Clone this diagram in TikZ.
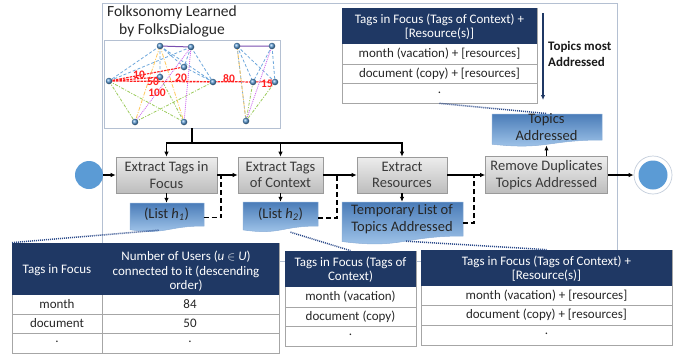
\documentclass[tikz,border=0pt]{standalone}
\usepackage{fontspec}
\setmainfont{Carlito}
\usetikzlibrary{arrows.meta,calc}
\definecolor{navy}{HTML}{1F3864}
\definecolor{frameg}{HTML}{B4C0D2}
\definecolor{tgrey}{HTML}{A6A6A6}
\definecolor{dotblue}{HTML}{2B4A8A}
\definecolor{nodeblue}{HTML}{5B9BD5}
\definecolor{boxtop}{HTML}{EDEDED}
\definecolor{boxbot}{HTML}{BDBDBD}
\definecolor{boxline}{HTML}{9A9A9A}
\definecolor{doctop}{HTML}{4A7CB8}
\definecolor{docbot}{HTML}{A8CBEE}
\definecolor{docline}{HTML}{8AAED8}
\definecolor{txtgrey}{HTML}{3A3A3A}
\definecolor{gblue}{HTML}{6FA8DC}
\definecolor{gorange}{HTML}{FFC85A}
\definecolor{ggreen}{HTML}{9BCB5A}
\definecolor{gmag}{HTML}{CC66EE}
\definecolor{gpurple}{HTML}{7A4FB0}
\definecolor{gred}{HTML}{FF2020}
\newcommand{\mydoc}[4]{\shadedraw[docshape] (#1,#2) -- (#3,#2) -- (#3,#4) .. controls ({(#1+#3)/2},#4) and ({(#1+#3)/2},{#4+0.3875*(#4-#2)}) .. (#1,{#4+0.1625*(#4-#2)}) -- cycle;}
\begin{document}
\begin{tikzpicture}[x=1pt,y=-1pt,
  arr/.style={-{Latex[length=5pt,width=4.5pt]}, line width=1.3pt, black},
  plain/.style={line width=1.3pt, black},
  dashconn/.style={line width=1.4pt, black, dash pattern=on 5pt off 3pt},
  dotconn/.style={line width=1.5pt, dotblue, dash pattern=on 1pt off 1pt},
  procbox/.style={draw=boxline, line width=0.6pt, top color=boxtop, bottom color=boxbot, align=center, inner sep=0pt, text=txtgrey, font=\fontsize{14.5}{16.5}\selectfont},
  docshape/.style={draw=docline, line width=0.5pt, top color=doctop, bottom color=docbot},
  doctext/.style={align=center, inner sep=0pt, text=black!85, font=\fontsize{14.5}{16.5}\selectfont},
  tabtxt/.style={inner sep=0pt, align=center, text=black!85, font=\fontsize{13}{15.5}\selectfont},
  tabhead/.style={inner sep=0pt, align=center, text=white, font=\fontsize{13}{15.5}\selectfont},
  tabframe/.style={draw=tgrey, line width=0.7pt, fill=white, inner sep=0pt},
  rowline/.style={draw=tgrey, line width=0.7pt},
  gnode/.style={circle, inner sep=0pt, minimum size=6.5pt, ball color=nodeblue, draw=none},
  gbl/.style={gblue, line width=0.8pt, dash pattern=on 3pt off 2pt},
  gor/.style={gorange, line width=0.8pt, dash pattern=on 4pt off 1.5pt on 1pt off 1.5pt},
  ggr/.style={ggreen, line width=0.8pt, dash pattern=on 3pt off 1.5pt on 1pt off 1.5pt},
  gmg/.style={gmag, line width=0.8pt, dash pattern=on 1pt off 1pt},
  grd/.style={gred, line width=1.1pt, dash pattern=on 2.5pt off 1pt},
  glab/.style={inner sep=0pt, text=gred, font=\bfseries\fontsize{11.5}{12}\selectfont}
]
\useasboundingbox (0,0) rectangle (688,354);
% outer frame
\draw[frameg, line width=0.8pt] (102,3) rectangle (617,261);
% title
\node[inner sep=0pt, align=center, text=black!85, font=\fontsize{15.5}{18}\selectfont] (title) at (172,21) {Folksonomy Learned\\by FolksDialogue};
% graph picture
\node[draw=frameg, line width=0.8pt, fill=white, minimum width=176, minimum height=88, inner sep=0pt] (gbox) at (192,84) {};
\coordinate (A) at (160,46);
\coordinate (B) at (191,47);
\coordinate (C) at (237,46);
\coordinate (D) at (272,46);
\coordinate (E) at (184,67);
\coordinate (F) at (109,81);
\coordinate (G) at (160,77);
\coordinate (H) at (213,82);
\coordinate (I) at (253,82);
\coordinate (J) at (275,82);
\coordinate (K) at (135,122);
\coordinate (L) at (184,122);
\coordinate (M) at (246,121);
\draw[gbl] (A)--(F) (B)--(F) (A)--(H) (A)--(G) (B)--(E) (B)--(H) (A)--(E) (E)--(H) (C)--(I) (C)--(J) (D)--(I) (D)--(J) (C)--(M);
\draw[gor] (A)--(K) (A)--(L) (C)--(M);
\draw[ggr] (F)--(K) (F)--(L) (K)--(H) (G)--(L) (I)--(M) (J)--(M);
\draw[gmg] (B)--(K) (B)--(L) (D)--(M);
\draw[grd] (F)--(E) (F)--(G) (F)--(H) (F)--(I) (F)--(J);
\draw[gpurple, line width=1pt] (A)--(B) (C)--(D);
\foreach \p in {A,B,C,D,E,F,G,H,I,J,K,L,M} \node[gnode] (n\p) at (\p) {};
\node[glab] (l10) at (139,74.5) {10};
\node[glab] (l50) at (153,81.5) {50};
\node[glab] (l100) at (157,93) {100};
\node[glab] (l20) at (181,78) {20};
\node[glab] (l80) at (229,79) {80};
\node[glab] (l15) at (267,84) {15};
% process boxes
\node[procbox, minimum width=101, minimum height=36] (b1) at (166.5,175) {Extract Tags in\\Focus};
\node[procbox, minimum width=85, minimum height=36] (b2) at (280.5,175) {Extract Tags\\of Context};
\node[procbox, minimum width=90, minimum height=36] (b3) at (402,175) {Extract\\Resources};
\node[procbox, minimum width=122, minimum height=37] (b4) at (546.5,175) {Remove Duplicates\\Topics Addressed};
% start and end
\node[circle, fill=nodeblue, minimum size=28pt, inner sep=0pt] (s) at (89,175) {};
\node[circle, draw=frameg!80, line width=0.7pt, fill=white, minimum size=38pt, inner sep=0pt] (e) at (653,175) {};
\node[circle, fill=nodeblue, minimum size=29pt, inner sep=0pt] (ei) at (653,175) {};
% documents
\mydoc{130}{203}{204}{226}
\mydoc{243}{202}{318}{226}
\mydoc{342}{202}{463}{236}
\mydoc{492}{114}{602}{140}
\node[doctext, minimum width=74, minimum height=23] (h1) at (166.5,214.5) {(List \textit{h}\textsubscript{\textit{1}})};
\node[doctext, minimum width=75, minimum height=24] (h2) at (280.5,214) {(List \textit{h}\textsubscript{\textit{2}})};
\node[doctext, minimum width=121, minimum height=34] (tmp) at (402,219) {Temporary List of\\Topics Addressed};
\node[doctext, minimum width=110, minimum height=26] (ta) at (546.5,127) {Topics\\Addressed};
% tree from graph
\coordinate (tj) at (192,143);
\draw[plain] (gbox.south) -- (tj);
\draw[arr] (tj) -| (b1.north);
\draw[arr] (tj) -| (b2.north);
\draw[arr] (tj) -| (b3.north);
% main flow
\draw[arr] (s.east) -- (b1.west);
\draw[arr] (b1.east) -- (b2.west);
\draw[arr] (b2.east) -- (b3.west);
\draw[arr] (b3.east) -- (b4.west);
\draw[arr] (b4.east) -- (e.west);
\draw[arr] (b1.south) -- (h1.north);
\draw[arr] (b2.south) -- (h2.north);
\draw[arr] (b3.south) -- (tmp.north);
\draw[arr] (b4.north) -- ($(ta.south)+(0,5)$);
% dashed feedback
\coordinate (j1) at (221,175);
\coordinate (j2) at (337,175);
\coordinate (j3) at (474,175);
\draw[dashconn] ($(h1.east)+(0,3)$) -| (j1);
\draw[dashconn] ($(h2.east)+(0,4)$) -| (j2);
\draw[dashconn] ($(tmp.east)+(0,4)$) -| (j3);
% top table
\node[tabframe, minimum width=195, minimum height=95] (tt) at (439.5,55.5) {};
\fill[navy] (342,8) rectangle (537,44);
\draw[rowline] (342,64) -- (537,64) (342,83) -- (537,83);
\node[tabhead] (tth) at (439.5,26.5) {Tags in Focus (Tags of Context) +\\[-1pt][Resource(s)]};
\node[tabtxt] (tt1) at (439.5,54) {month (vacation) + [resources]};
\node[tabtxt] (tt2) at (439.5,73.5) {document (copy) + [resources]};
\node[tabtxt] (tt3) at (439.5,93) {.};
\draw[-{Latex[length=5pt,width=4.5pt]}, navy, line width=1.2pt] (543,13) coordinate (ar1) -- (543,100) coordinate (ar2);
\node[inner sep=0pt, anchor=west, align=left, text=black!90, font=\bfseries\fontsize{13}{16}\selectfont] (tma) at (548,54) {Topics most\\Addressed};
% left table
\node[tabframe, minimum width=267, minimum height=110] (lt) at (145.5,298) {};
\fill[navy] (12,243) rectangle (279,295);
\draw[rowline] (12,314) -- (279,314) (12,333) -- (279,333) (102,295) -- (102,353);
\node[tabhead] (lth1) at (57,270) {Tags in Focus};
\node[tabhead] (lth2) at (186,271.5) {Number of Users (\textit{u} $\in$ \textit{U})\\[-1pt]connected to it (descending\\[-1pt]order)};
\node[tabtxt] (lt11) at (57,304.5) {month};
\node[tabtxt] (lt12) at (190,304.5) {84};
\node[tabtxt] (lt21) at (57,323.5) {document};
\node[tabtxt] (lt22) at (190,323.5) {50};
\node[tabtxt] (lt31) at (57,342) {.};
\node[tabtxt] (lt32) at (190,342) {.};
% middle table
\node[tabframe, minimum width=131, minimum height=95] (mt) at (350.5,298.5) {};
\fill[navy] (285,251) rectangle (416,287);
\draw[rowline] (285,307) -- (416,307) (285,326) -- (416,326);
\node[tabhead] (mth) at (350.5,269.5) {Tags in Focus (Tags of\\[-1pt]Context)};
\node[tabtxt] (mt1) at (350.5,297) {month (vacation)};
\node[tabtxt] (mt2) at (350.5,316.5) {document (copy)};
\node[tabtxt] (mt3) at (350.5,335) {.};
% right table
\node[tabframe, minimum width=251, minimum height=95] (rt) at (546.5,297.5) {};
\fill[navy] (421,250) rectangle (672,286);
\draw[rowline] (421,305) -- (672,305) (421,325) -- (672,325);
\node[tabhead] (rth) at (546.5,268.5) {Tags in Focus (Tags of Context) +\\[-1pt][Resource(s)]};
\node[tabtxt] (rt1) at (546.5,295.5) {month (vacation) + [resources]};
\node[tabtxt] (rt2) at (546.5,315) {document (copy) + [resources]};
\node[tabtxt] (rt3) at (546.5,334) {.};
% dotted links
\draw[dotconn] ($(h1.south)+(-8,4)$) -- (lt.north west);
\draw[dotconn] ($(h2.south)+(10,6)$) -- (mt.north);
\draw[dotconn] ($(tmp.south)+(4,5)$) -- (rt.north);
\draw[dotconn] (tt.south) -- (ta.north);
\end{tikzpicture}
\end{document}
